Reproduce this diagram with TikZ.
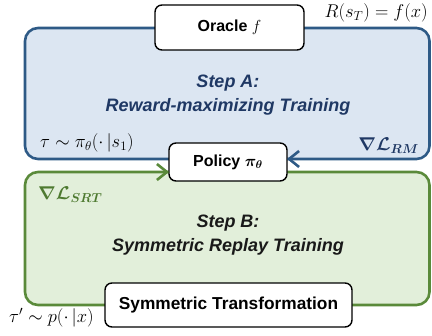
\RequirePackage{fix-cm}
\documentclass[tikz,border=0pt]{standalone}
\usepackage{fontspec}
\setmainfont{Liberation Sans}
\usepackage{amsmath,bm}
\usetikzlibrary{arrows.meta}
\definecolor{bstroke}{HTML}{2E5A86}
\definecolor{bfill}{HTML}{DCE6F2}
\definecolor{btext}{HTML}{1F3864}
\definecolor{gstroke}{HTML}{5A8A3A}
\definecolor{gfill}{HTML}{E2EFDA}
\definecolor{gtext}{HTML}{4E7A30}
\tikzset{
  stepbox/.style={rounded corners=13pt, line width=2.6pt},
  whitebox/.style={draw=black, fill=white, rounded corners=7pt, line width=1.4pt, inner sep=0pt,
    font=\fontsize{16}{18}\selectfont\bfseries},
  steptext/.style={font=\fontsize{18}{24.5}\selectfont\bfseries\itshape, align=center},
  mathlab/.style={font=\fontsize{18.5}{21}\selectfont, inner sep=0pt},
  arr/.style={line width=2.6pt, -{Straight Barb[length=10pt,width=16pt]}}
}
\begin{document}
\begin{tikzpicture}[x=1pt,y=-1pt]
\useasboundingbox (0,0) rectangle (432,336);
% boxes
\draw[stepbox, draw=bstroke, fill=bfill] (25,28) rectangle (429.5,159);
\draw[stepbox, draw=gstroke, fill=gfill] (25,172) rectangle (429.5,305);
% white nodes
\node[whitebox, minimum width=149pt, minimum height=45pt] (oracle) at (229.5,27.5) {Oracle $f$};
\node[whitebox, minimum width=118pt, minimum height=38pt] (policy) at (228,162) {Policy $\bm{\pi_\theta}$};
\node[whitebox, minimum width=247pt, minimum height=44pt, font=\fontsize{17.3}{19}\selectfont\bfseries] (sym) at (228.5,305) {Symmetric Transformation};
% step texts
\node[steptext, text=btext] (stepa) at (228,95) {Step A:\\Reward-maximizing Training};
\node[steptext, text=black!90] (stepb) at (228,235) {Step B:\\Symmetric Replay Training};
% arrows into policy
\coordinate (bend) at (287,159);
\coordinate (bs) at (309,159);
\coordinate (gend) at (169,172);
\coordinate (gs) at (147,172);
\draw[arr, draw=bstroke] (bs) -- (bend);
\draw[arr, draw=gstroke] (gs) -- (gend);
% math labels
\node[mathlab, anchor=east] (rst) at (428,13) {$R(s_T)=f(x)$};
\node[mathlab, anchor=west] (tau) at (40,143) {$\tau\sim\pi_\theta(\cdot\,|s_1)$};
\node[mathlab, anchor=east, text=btext] (grm) at (419,146) {$\bm{\nabla\mathcal{L}_{RM}}$};
\node[mathlab, anchor=west, text=gtext] (gsrt) at (38,195) {$\bm{\nabla\mathcal{L}_{SRT}}$};
\node[mathlab, anchor=west] (taup) at (9,318) {$\tau'\sim p(\cdot\,|x)$};
\end{tikzpicture}
\end{document}
